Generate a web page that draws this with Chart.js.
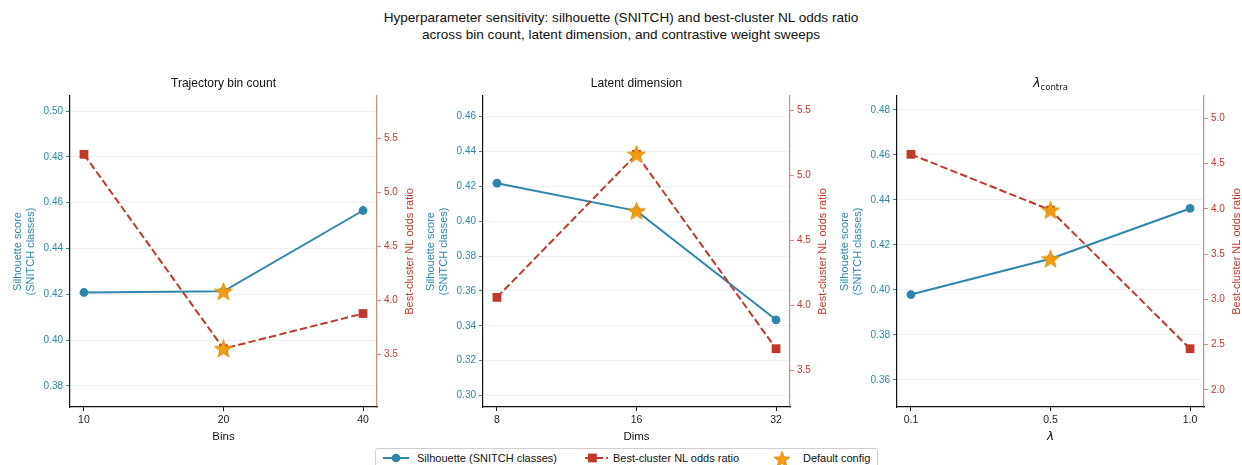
<!DOCTYPE html>
<html>
<head>
<meta charset="utf-8">
<script src="https://cdn.jsdelivr.net/npm/chart.js@4.4.0/dist/chart.umd.min.js"></script>
<style>
  body { margin: 0; width: 1242px; height: 465px; background: #fff; position: relative; overflow: hidden;
         font-family: "Liberation Sans", Arial, sans-serif; }
  #suptitle { position: absolute; left: 0; top: 10px; width: 1242px; text-align: center;
              font-size: 13.6px; line-height: 16.5px; color: #111; }
  .panel { position: absolute; top: 60px; }
  #legend { position: absolute; left: 375px; top: 448px; width: 503px; height: 22px; box-sizing: border-box;
            border: 1px solid #cfcfcf; border-radius: 3px; background: #fff; font-size: 11px; color: #111; }
  #legend svg, #legend span { position: absolute; }
  #legend span { top: 3px; line-height: 13px; }
</style>
</head>
<body>
<div id="suptitle">Hyperparameter sensitivity: silhouette (SNITCH) and best-cluster NL odds ratio<br>across bin count, latent dimension, and contrastive weight sweeps</div>

<canvas id="bins" class="panel" width="421" height="405" style="left:0px"></canvas>
<canvas id="dims" class="panel" width="421" height="405" style="left:413px"></canvas>
<canvas id="lambda" class="panel" width="421" height="405" style="left:827px"></canvas>

<div id="legend">
  <svg style="left:7px;top:3px" width="26" height="12"><line x1="0" y1="6" x2="26" y2="6" stroke="#2e86ab" stroke-width="2"/><circle cx="13" cy="6" r="4.3" fill="#2e86ab"/></svg>
  <span style="left:41px">Silhouette (SNITCH classes)</span>
  <svg style="left:206px;top:3px" width="26" height="12"><line x1="0" y1="6" x2="26" y2="6" stroke="#c0392b" stroke-width="2" stroke-dasharray="7.4 3.2" stroke-dashoffset="-3"/><rect x="6" y="1.6" width="8.8" height="8.8" fill="#c0392b"/></svg>
  <span style="left:237px">Best-cluster NL odds ratio</span>
  <svg style="left:396px;top:0px" width="20" height="20"><polygon id="legendStar" fill="#f39c12" stroke="#e08e0b" stroke-width="0.8"/></svg>
  <span style="left:427px">Default config</span>
</div>

<script>
Chart.defaults.font.family = '"Liberation Sans", Arial, sans-serif';

const BLUE = '#2e86ab';
const RED = '#c0392b';
const RED_SPINE = 'rgba(192, 57, 43, 0.6)';
const ORANGE = '#f39c12';

// sweep: trajectory bin count
const binLabels = ['10', '20', '40'];
const binSilhouette = [0.4208, 0.4213, 0.4566];
const binOdds = [5.35, 3.553, 3.878];

// sweep: latent dimension
const dimLabels = ['8', '16', '32'];
const dimSilhouette = [0.4218, 0.4059, 0.3434];
const dimOdds = [4.06, 5.161, 3.665];

// sweep: contrastive weight
const lambdaLabels = ['0.1', '0.5', '1.0'];
const lambdaSilhouette = [0.3979, 0.4138, 0.4362];
const lambdaOdds = [4.604, 3.987, 2.455];

// index of the default setting in each sweep
const defaultIndex = [1, 1, 1];

// tick labels per panel
const binSilTicks = [0.38, 0.40, 0.42, 0.44, 0.46, 0.48, 0.50];
const binOddsTicks = [3.5, 4.0, 4.5, 5.0, 5.5];
const dimSilTicks = [0.30, 0.32, 0.34, 0.36, 0.38, 0.40, 0.42, 0.44, 0.46];
const dimOddsTicks = [3.5, 4.0, 4.5, 5.0, 5.5];
const lambdaSilTicks = [0.36, 0.38, 0.40, 0.42, 0.44, 0.46, 0.48];
const lambdaOddsTicks = [2.0, 2.5, 3.0, 3.5, 4.0, 4.5, 5.0];

function starPoints(cx, cy, r, inner) {
  const pts = [];
  for (let i = 0; i < 10; i++) {
    const rad = i % 2 ? r * inner : r;
    const a = -Math.PI / 2 + i * Math.PI / 5;
    pts.push([cx + rad * Math.cos(a), cy + rad * Math.sin(a)]);
  }
  return pts;
}

// filled five-point star used as a point style
function makeStar(r) {
  const c = document.createElement('canvas');
  const s = Math.ceil(r * 2 + 4);
  c.width = c.height = s;
  const g = c.getContext('2d');
  g.beginPath();
  starPoints(s / 2, s / 2 + 0.8, r, 0.42).forEach(([x, y]) => g.lineTo(x, y));
  g.closePath();
  g.fillStyle = ORANGE;
  g.fill();
  g.strokeStyle = '#e08e0b';
  g.lineWidth = 0.8;
  g.stroke();
  return c;
}
const STAR = makeStar(9.5);

document.getElementById('legendStar').setAttribute('points',
  starPoints(10, 10.8, 8.5, 0.42).map(p => p.join(',')).join(' '));

// panel heading (centred over the plot area, optional subscript) and right axis title
const panelText = {
  id: 'panelText',
  afterDraw(chart, args, opts) {
    const { ctx, chartArea } = chart;
    ctx.save();
    ctx.textBaseline = 'middle';
    ctx.fillStyle = '#111';
    const cx = (chartArea.left + chartArea.right) / 2;
    const ty = chartArea.top - 12;
    if (opts.sub) {
      const mainFont = 'italic 12.5px "DejaVu Sans", sans-serif';
      const subFont = '8.5px "DejaVu Sans", sans-serif';
      ctx.font = mainFont;
      const w1 = ctx.measureText(opts.title).width;
      ctx.font = subFont;
      const w2 = ctx.measureText(opts.sub).width;
      const x0 = cx - (w1 + w2) / 2;
      ctx.textAlign = 'left';
      ctx.font = mainFont;
      ctx.fillText(opts.title, x0, ty);
      ctx.font = subFont;
      ctx.fillText(opts.sub, x0 + w1, ty + 3.5);
    } else {
      ctx.font = '12px "Liberation Sans", Arial, sans-serif';
      ctx.textAlign = 'center';
      ctx.fillText(opts.title, cx, ty);
    }
    const y2 = chart.scales.y2;
    ctx.translate(y2.left + 33, (chartArea.top + chartArea.bottom) / 2);
    ctx.rotate(-Math.PI / 2);
    ctx.textAlign = 'center';
    ctx.fillStyle = RED;
    ctx.font = '11px "Liberation Sans", Arial, sans-serif';
    ctx.fillText(opts.rightTitle, 0, 0);
    ctx.restore();
  }
};

function buildPanel(id, p) {
  const d = p.defaultAt;
  const sil = p.silhouette.map((v, i) => ({ x: i, y: v }));
  const odds = p.odds.map((v, i) => ({ x: i, y: v }));
  const oddsMin = Math.min(...p.odds), oddsMax = Math.max(...p.odds);
  const oddsPad = 0.3 * (oddsMax - oddsMin);

  new Chart(document.getElementById(id), {
    type: 'line',
    data: {
      datasets: [
        { label: 'Default config', data: [{ x: d, y: p.silhouette[d] }], yAxisID: 'y',
          pointStyle: STAR, showLine: false, order: 0 },
        { label: 'Default config', data: [{ x: d, y: p.odds[d] }], yAxisID: 'y2',
          pointStyle: STAR, showLine: false, order: 0 },
        { label: 'Best-cluster NL odds ratio', data: odds, yAxisID: 'y2',
          borderColor: RED, backgroundColor: RED, borderWidth: 2, borderDash: [7.4, 3.2],
          pointStyle: 'rect', pointRadius: 6.2, pointBorderWidth: 0, order: 1 },
        { label: 'Silhouette (SNITCH classes)', data: sil, yAxisID: 'y',
          borderColor: BLUE, backgroundColor: BLUE, borderWidth: 2,
          pointStyle: 'circle', pointRadius: 4.4, pointBorderWidth: 0, order: 2 }
      ]
    },
    options: {
      responsive: false,
      animation: false,
      events: [],
      layout: { padding: { top: 36, bottom: 18, left: 0, right: 0 } },
      plugins: {
        legend: { display: false },
        tooltip: { enabled: false },
        panelText: { title: p.title, sub: p.sub, rightTitle: 'Best-cluster NL odds ratio' }
      },
      scales: {
        x: {
          type: 'linear', min: -0.1, max: p.labels.length - 0.9,
          afterBuildTicks: s => { s.ticks = p.labels.map((_, i) => ({ value: i })); },
          afterFit: s => { s.height = 40; },
          ticks: { callback: v => p.labels[v], color: '#222', font: { size: 10.5 }, padding: 3, maxRotation: 0 },
          grid: { drawOnChartArea: false, tickLength: 4, tickColor: '#111' },
          border: { color: '#111', width: 1.2 },
          title: { display: true, text: p.xTitle, color: '#111', font: p.xFont, padding: { top: 0, bottom: 3 } }
        },
        y: {
          position: 'left',
          min: Math.min(...p.silhouette) - 0.05, max: Math.max(...p.silhouette) + 0.05,
          afterBuildTicks: s => { s.ticks = p.silTicks.map(v => ({ value: v })); },
          afterFit: s => { s.width = 70; },
          ticks: { callback: v => v.toFixed(2), color: BLUE, font: { size: 10 }, padding: 3 },
          grid: { color: '#ebebeb', lineWidth: 0.8, tickColor: BLUE, tickLength: 4, tickWidth: 1 },
          border: { color: '#111', width: 1.2 },
          title: { display: true, text: ['Silhouette score', '(SNITCH classes)'], color: BLUE,
                   font: { size: 11 }, padding: { top: 11.4, bottom: 0 } }
        },
        y2: {
          position: 'right',
          min: oddsMin - oddsPad, max: oddsMax + oddsPad,
          afterBuildTicks: s => { s.ticks = p.oddsTicks.map(v => ({ value: v })); },
          afterFit: s => { s.width = 44; },
          ticks: { callback: v => v.toFixed(1), color: RED, font: { size: 10 }, padding: 3 },
          grid: { drawOnChartArea: false, tickColor: RED_SPINE, tickLength: 4, tickWidth: 1 },
          border: { color: RED_SPINE, width: 1.2 }
        }
      }
    },
    plugins: [panelText]
  });
}

const axisFont = { size: 11.5 };

buildPanel('bins', {
  title: 'Trajectory bin count', labels: binLabels, silhouette: binSilhouette, odds: binOdds,
  silTicks: binSilTicks, oddsTicks: binOddsTicks, defaultAt: defaultIndex[0],
  xTitle: 'Bins', xFont: axisFont
});
buildPanel('dims', {
  title: 'Latent dimension', labels: dimLabels, silhouette: dimSilhouette, odds: dimOdds,
  silTicks: dimSilTicks, oddsTicks: dimOddsTicks, defaultAt: defaultIndex[1],
  xTitle: 'Dims', xFont: axisFont
});
buildPanel('lambda', {
  title: 'λ', sub: 'contra', labels: lambdaLabels, silhouette: lambdaSilhouette, odds: lambdaOdds,
  silTicks: lambdaSilTicks, oddsTicks: lambdaOddsTicks, defaultAt: defaultIndex[2],
  xTitle: 'λ', xFont: { size: 12, style: 'italic', family: '"DejaVu Sans", sans-serif' }
});
</script>
</body>
</html>
